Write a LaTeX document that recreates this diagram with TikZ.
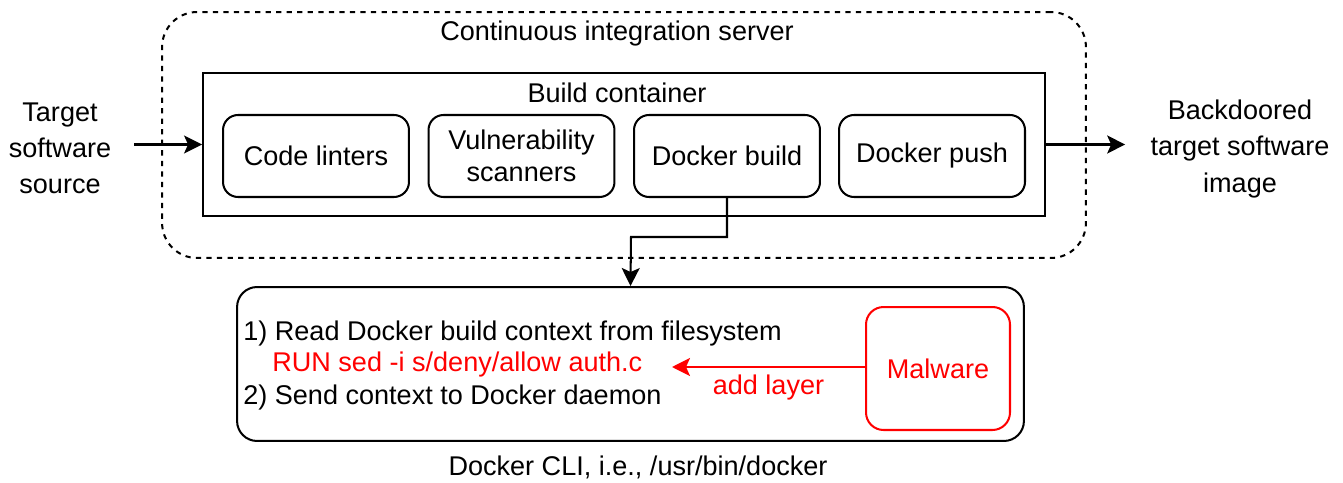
\documentclass[tikz,border=0pt]{standalone}
\usepackage{fontspec}
\setmainfont{Liberation Sans}
\usetikzlibrary{arrows.meta}

\tikzset{
    txt/.style={font=\fontsize{15.4}{18.4}\selectfont, inner sep=0pt},
    sidetxt/.style={font=\fontsize{15.4}{20.5}\selectfont, align=center, inner sep=0pt},
    stage/.style={draw, line width=1.15pt, rounded corners=0.3cm, minimum width=3.72cm, minimum height=1.64cm, align=center, txt},
    arr/.style={line width=1.15pt, -{Stealth[length=0.36cm, width=0.36cm, inset=0.08cm]}}
}

\begin{document}
\begin{tikzpicture}[x=0.02cm, y=-0.02cm]
        \useasboundingbox (0,0) rectangle (1343,483);
        % containers
        \node[draw, dashed, line width=1.15pt, rounded corners=0.7cm, minimum width=18.48cm, minimum height=4.92cm] (ci) at (624,135) {};
        \node[txt, anchor=center] (citxt) at (617,34) {Continuous integration server};
        \node[draw, line width=1.15pt, minimum width=16.84cm, minimum height=2.86cm] (build) at (624,144.5) {};
        \node[txt] (buildtxt) at (617,93) {Build container};
        % stages
        \node[stage] (lint) at (316,156) {Code linters};
        \node[stage] (vuln) at (521.5,156) {Vulnerability\\scanners};
        \node[stage] (dbuild) at (727,156) {Docker build};
        \node[stage] (dpush) at (932,156) {Docker push};
        % in and out
        \node[sidetxt] (src) at (60,148) {Target\\software\\source};
        \node[sidetxt] (img) at (1240,149) {Backdoored\\target software\\image};
        \draw[arr] ([xshift=0.46cm]src.east |- build.west) -- (build.west);
        \draw[arr] (build.east) -- ([xshift=-0.5cm]img.west |- build.east);
        % docker cli
        \node[draw, line width=1.15pt, rounded corners=0.4cm, minimum width=15.74cm, minimum height=3.08cm] (cli) at (630.5,364) {};
        \node[txt] (clitxt) at (638,467) {Docker CLI, i.e., /usr/bin/docker};
        \coordinate (bend) at (631,237);
        \draw[arr] (dbuild.south) |- (bend) -- (cli.north);
        \node[txt, anchor=west] (step1) at (243,334) {1) Read Docker build context from filesystem};
        \node[txt, anchor=west, red] (runline) at (272,365) {RUN sed -i s/deny/allow auth.c};
        \node[txt, anchor=west] (step2) at (243,397) {2) Send context to Docker daemon};
        % malware
        \node[draw=red, line width=1.15pt, rounded corners=0.35cm, minimum width=2.88cm, minimum height=2.46cm, txt, text=red] (mal) at (938,368.5) {Malware};
        \coordinate (inject) at (672,367);
        \draw[arr, red] (mal.west |- inject) -- (inject) node[pos=0.5, below=0.14cm, txt] {add layer};
    \end{tikzpicture}
\end{document}
